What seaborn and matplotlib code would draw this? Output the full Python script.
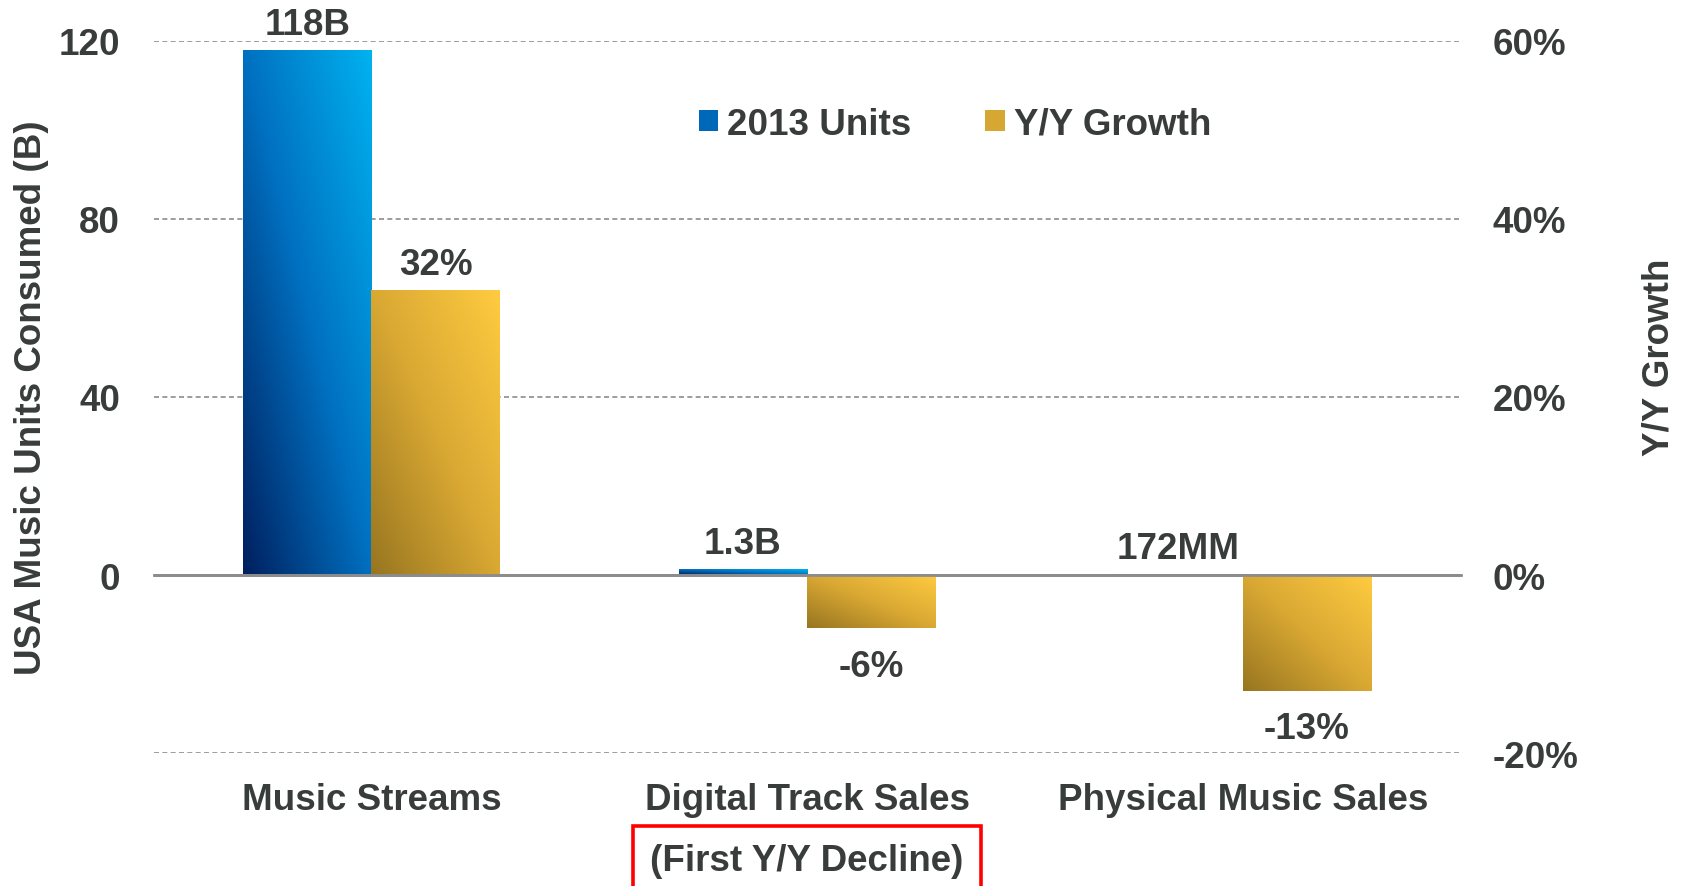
import numpy as np
import pandas as pd
import matplotlib
matplotlib.use("Agg")
import matplotlib.pyplot as plt
import seaborn as sns
from matplotlib.colors import LinearSegmentedColormap
from matplotlib.patches import Patch

# ---------------- data ----------------
categories = ["Music Streams", "Digital Track Sales", "Physical Music Sales"]
units_2013 = [118, 1.3, 0.172]          # billions
yy_growth = [32, -6, -13]               # percent
unit_labels = ["118B", "1.3B", "172MM"]
growth_labels = ["32%", "-6%", "-13%"]
series_names = ["2013 Units", "Y/Y Growth"]
left_ticks = [0, 40, 80, 120]
right_ticks = [-20, 0, 20, 40, 60]
note_text = "(First Y/Y Decline)"
left_label = "USA Music Units Consumed (B)"
right_label = "Y/Y Growth"

df_units = pd.DataFrame({"category": categories, "value": units_2013,
                         "series": series_names[0]})
df_growth = pd.DataFrame({"category": categories, "value": yy_growth,
                          "series": series_names[1]})

# ---------------- style ----------------
sns.set_style("white")
plt.rcParams["font.family"] = ["Liberation Sans", "DejaVu Sans"]
plt.rcParams["font.weight"] = "bold"

TEXT = "#383d3b"
GRID = "#8c8c8c"
FS = 26.5
BLUE_GRAD = ["#001f5e", "#0070c0", "#00b2f0"]
GOLD_GRAD = ["#977520", "#d9a833", "#ffcb40"]

fig = plt.figure(figsize=(16.84, 8.87), dpi=100)
ax = fig.add_axes([0.0912, 0.1499, 0.7761, 0.8028])
ax2 = ax.twinx()

sns.barplot(data=df_units, x="category", y="value", hue="series",
            hue_order=series_names, order=categories,
            palette=[BLUE_GRAD[1], GOLD_GRAD[1]], width=0.59, dodge=True,
            errorbar=None, legend=False, saturation=1, ax=ax)
sns.barplot(data=df_growth, x="category", y="value", hue="series",
            hue_order=series_names, order=categories,
            palette=[BLUE_GRAD[1], GOLD_GRAD[1]], width=0.59, dodge=True,
            errorbar=None, legend=False, saturation=1, ax=ax2)


def bars_of(axis):
    ps = [p for p in axis.patches if p.get_width() > 0]
    return sorted(ps, key=lambda p: p.get_x())


def gradient_fill(axis, colors):
    cmap = LinearSegmentedColormap.from_list("grad", colors)
    n = 256
    g = np.linspace(0, 1, n)
    U, V = np.meshgrid(g, g)
    G = (U + V) / 2.0
    for p in bars_of(axis):
        x0, w = p.get_x(), p.get_width()
        y0, h = p.get_y(), p.get_height()
        if h == 0:
            continue
        ylo, yhi = min(y0, y0 + h), max(y0, y0 + h)
        p.set_edgecolor("none")
        im = axis.imshow(G, extent=(x0, x0 + w, ylo, yhi), origin="lower",
                         cmap=cmap, vmin=0, vmax=1, aspect="auto",
                         interpolation="bilinear", zorder=p.get_zorder() + 0.01)
        im.set_clip_path(p)


def label_bars(axis, labels):
    for p, lab in zip(bars_of(axis), labels):
        xc = p.get_x() + p.get_width() / 2
        top = p.get_y() + p.get_height()
        if p.get_height() >= 0:
            axis.annotate(lab, xy=(xc, top), xytext=(0, 6),
                          textcoords="offset points", ha="center", va="bottom",
                          fontsize=FS, color=TEXT, fontweight="bold")
        else:
            axis.annotate(lab, xy=(xc, top), xytext=(0, -14.5),
                          textcoords="offset points", ha="center", va="top",
                          fontsize=FS, color=TEXT, fontweight="bold")


gradient_fill(ax, BLUE_GRAD)
gradient_fill(ax2, GOLD_GRAD)

# limits
ax.set_xlim(-0.5, 2.5)
ax.set_ylim(-40, 120)
ax2.set_ylim(-20, 60)

label_bars(ax, unit_labels)
label_bars(ax2, growth_labels)

# left axis
ax.set_yticks(left_ticks)
ax.set_yticklabels([str(v) for v in left_ticks])
ax.set_yticks([right_ticks[0] * 2], minor=True)
ax.tick_params(axis="y", which="both", length=0, pad=24, labelsize=FS,
               labelcolor=TEXT)
ax.grid(axis="y", which="both", color=GRID, linestyle=(0, (3, 2)),
        linewidth=1.2)
ax.set_axisbelow(True)
ax.set_xlabel("")
ax.set_ylabel("")
for s in ["top", "left", "right"]:
    ax.spines[s].set_visible(False)
ax.spines["bottom"].set_position(("data", 0))
ax.spines["bottom"].set_color(GRID)
ax.spines["bottom"].set_linewidth(2)
ax.set_xticks(range(len(categories)))
ax.tick_params(axis="x", which="major", length=0, labelbottom=False)
ax.set_xticks(np.arange(len(categories) + 1) - 0.5, minor=True)
ax.tick_params(axis="x", which="minor", length=8, width=1.5, color=GRID,
               direction="out")

# right axis
ax2.set_yticks(right_ticks)
ax2.set_yticklabels([f"{v}%" for v in right_ticks])
ax2.tick_params(axis="y", length=0, pad=23, labelsize=FS, labelcolor=TEXT)
ax2.grid(False)
ax2.set_ylabel("")
ax2.set_xlabel("")
for s in ax2.spines.values():
    s.set_visible(False)
ax2.axhline(0, color=GRID, linewidth=2, zorder=5)

# category labels
xtr = ax.get_xaxis_transform()
for i, cat in enumerate(categories):
    ax.annotate(cat, xy=(i, 0), xycoords=xtr, xytext=(0, -21),
                textcoords="offset points", ha="center", va="top",
                fontsize=FS, color=TEXT, fontweight="bold", annotation_clip=False)
ax.annotate(note_text, xy=(1, 0), xycoords=xtr, xytext=(0, -84.5),
            textcoords="offset points", ha="center", va="baseline",
            fontsize=FS, color=TEXT, fontweight="bold", annotation_clip=False,
            bbox=dict(boxstyle="square,pad=0.47", facecolor="none",
                      edgecolor="#ff0000", linewidth=2.6))

# axis titles
fig.text(0.0185, 0.552, left_label, rotation=90, ha="center", va="center",
         fontsize=FS, color=TEXT, fontweight="bold")
fig.text(0.985, 0.597, right_label, rotation=90, ha="center", va="center",
         fontsize=FS, color=TEXT, fontweight="bold")

# legend
handles = [Patch(facecolor="#0068b8", edgecolor="none"),
           Patch(facecolor="#d6a733", edgecolor="none")]
leg = fig.legend(handles, series_names, loc="center",
                 bbox_to_anchor=(0.567, 0.859), ncol=2, frameon=False,
                 fontsize=FS, handlelength=0.53, handleheight=0.53,
                 handletextpad=0.25, columnspacing=2.0, labelcolor=TEXT)
for t in leg.get_texts():
    t.set_fontweight("bold")

fig.savefig("out.png", dpi=100)
